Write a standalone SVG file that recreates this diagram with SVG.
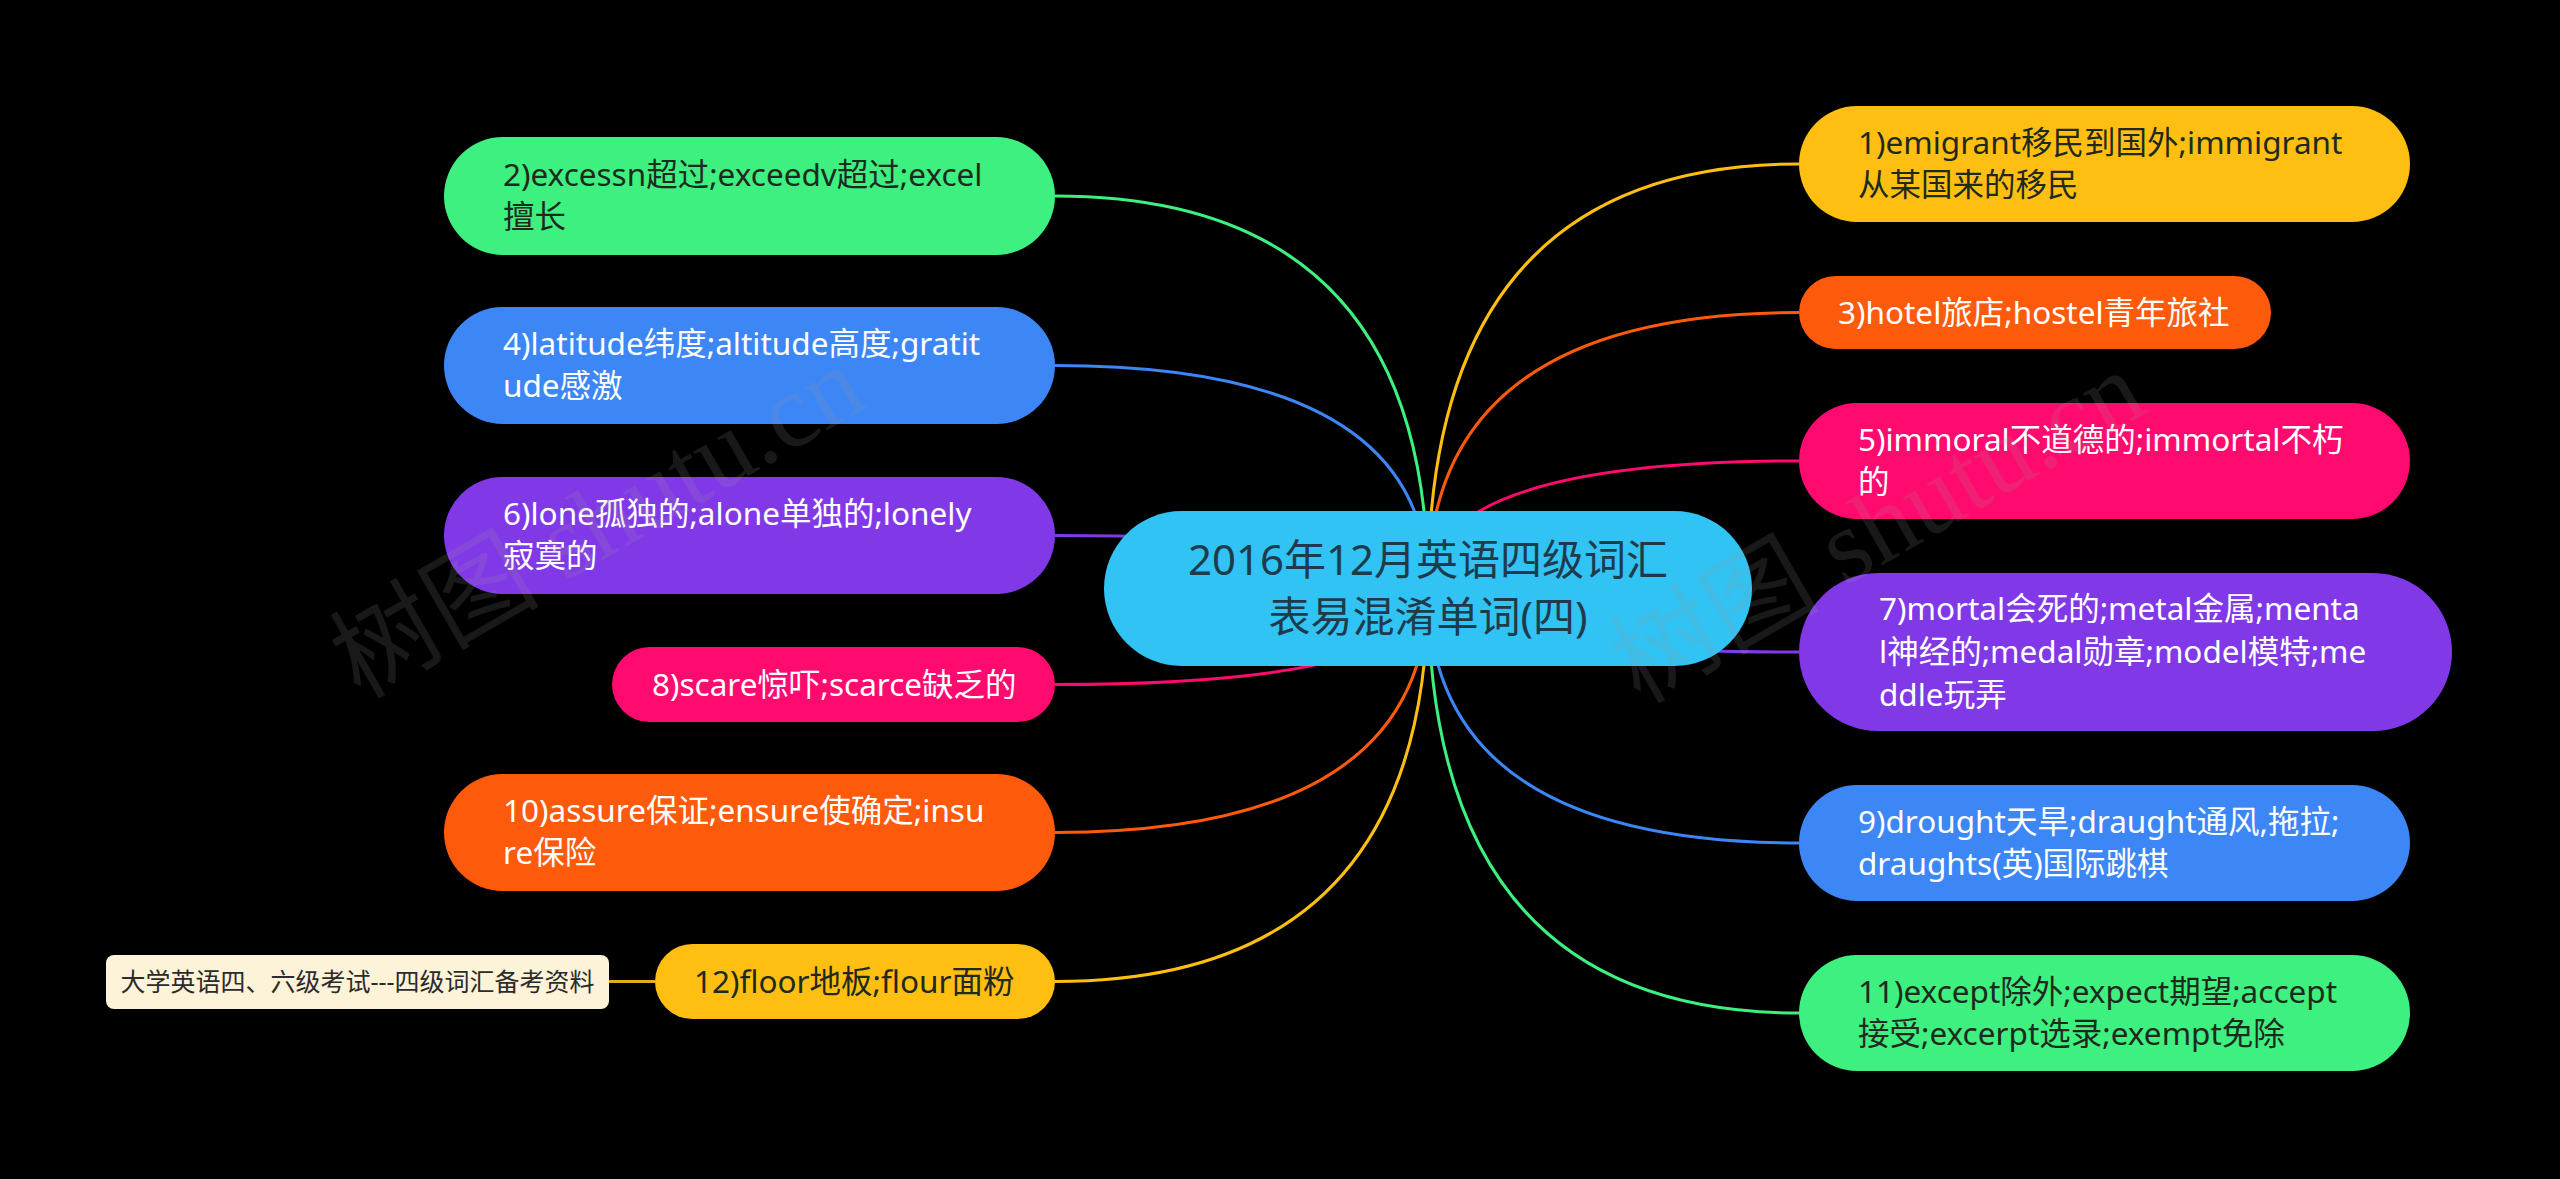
<svg xmlns="http://www.w3.org/2000/svg" width="2560" height="1179" viewBox="0 0 2560 1179">
<style>
.t{font-family:"Noto Sans","Noto Sans CJK SC",sans-serif;font-size:31.5px}
.w{fill:#ffffff}
.d{fill:#1f2a1f}
.c{fill:none;stroke-width:3}
.title{font-family:"Noto Sans","Noto Sans CJK SC",sans-serif;font-size:42px;fill:#1e3b4c;text-anchor:middle}
.wm{font-family:"Liberation Serif","Noto Sans CJK SC",serif;font-size:105px;fill:#9a9a9a;opacity:0.16}
</style>
<rect width="2560" height="1179" fill="#000000"/>
<g id="connectors">
<path class="c" stroke="#3ef07f" d="M1428 588 Q1428 196 1055 196"/>
<path class="c" stroke="#3d86f6" d="M1428 588 Q1428 365.5 1055 365.5"/>
<path class="c" stroke="#8139e8" d="M1428 588 Q1428 535.5 1055 535.5"/>
<path class="c" stroke="#ff0a6e" d="M1428 588 Q1428 684.5 1055 684.5"/>
<path class="c" stroke="#fd5a0c" d="M1428 588 Q1428 832.5 1055 832.5"/>
<path class="c" stroke="#ffbf12" d="M1428 588 Q1428 981.5 1055 981.5"/>
<path class="c" stroke="#ffbf12" d="M1428 588 Q1428 164 1799 164"/>
<path class="c" stroke="#fd5a0c" d="M1428 588 Q1428 312.5 1799 312.5"/>
<path class="c" stroke="#ff0a6e" d="M1428 588 Q1428 461 1799 461"/>
<path class="c" stroke="#8139e8" d="M1428 588 Q1428 652 1799 652"/>
<path class="c" stroke="#3d86f6" d="M1428 588 Q1428 843 1799 843"/>
<path class="c" stroke="#3ef07f" d="M1428 588 Q1428 1013 1799 1013"/>
<path class="c" stroke="#e2ad1a" d="M655 981.5 L609 981.5"/>
</g>
<g id="center">
<rect x="1104" y="511" width="648" height="155" rx="77.5" fill="#30c3f3"/>
<text class="title" x="1428" y="575">2016年12月英语四级词汇</text>
<text class="title" x="1428" y="632">表易混淆单词(四)</text>
</g>
<g id="n2">
<rect x="444" y="137" width="611" height="118" rx="59" fill="#3ef07f"/>
<text class="t d" x="503" y="186">2)excessn超过;exceedv超过;excel</text>
<text class="t d" x="503" y="228">擅长</text>
</g>
<g id="n4">
<rect x="444" y="307" width="611" height="117" rx="58.5" fill="#3d86f6"/>
<text class="t w" x="503" y="355">4)latitude纬度;altitude高度;gratit</text>
<text class="t w" x="503" y="397">ude感激</text>
</g>
<g id="n6">
<rect x="444" y="477" width="611" height="117" rx="58.5" fill="#8139e8"/>
<text class="t w" x="503" y="525">6)lone孤独的;alone单独的;lonely</text>
<text class="t w" x="503" y="567">寂寞的</text>
</g>
<g id="n8">
<rect x="612" y="647" width="443" height="75" rx="37.5" fill="#ff0a6e"/>
<text class="t w" x="652" y="696">8)scare惊吓;scarce缺乏的</text>
</g>
<g id="n10">
<rect x="444" y="774" width="611" height="117" rx="58.5" fill="#fd5a0c"/>
<text class="t w" x="503" y="822">10)assure保证;ensure使确定;insu</text>
<text class="t w" x="503" y="864">re保险</text>
</g>
<g id="n12">
<rect x="655" y="944" width="400" height="75" rx="37.5" fill="#ffbf12"/>
<text class="t d" x="694" y="993">12)floor地板;flour面粉</text>
</g>
<g id="note">
<rect x="106" y="955" width="503" height="54" rx="8" fill="#fdf3d8"/>
<text x="357.5" y="991" text-anchor="middle" style="font-family:'Noto Sans','Noto Sans CJK SC',sans-serif;font-size:25px;fill:#2b2b2b">大学英语四、六级考试---四级词汇备考资料</text>
</g>
<g id="n1">
<rect x="1799" y="106" width="611" height="116" rx="58" fill="#ffbf12"/>
<text class="t d" x="1858" y="154">1)emigrant移民到国外;immigrant</text>
<text class="t d" x="1858" y="196">从某国来的移民</text>
</g>
<g id="n3">
<rect x="1799" y="276" width="472" height="73" rx="36.5" fill="#fd5a0c"/>
<text class="t w" x="1838" y="324">3)hotel旅店;hostel青年旅社</text>
</g>
<g id="n5">
<rect x="1799" y="403" width="611" height="116" rx="58" fill="#ff0a6e"/>
<text class="t w" x="1858" y="451">5)immoral不道德的;immortal不朽</text>
<text class="t w" x="1858" y="493">的</text>
</g>
<g id="n7">
<rect x="1799" y="573" width="653" height="158" rx="79" fill="#8139e8"/>
<text class="t w" x="1879" y="620">7)mortal会死的;metal金属;menta</text>
<text class="t w" x="1879" y="663">l神经的;medal勋章;model模特;me</text>
<text class="t w" x="1879" y="706">ddle玩弄</text>
</g>
<g id="n9">
<rect x="1799" y="785" width="611" height="116" rx="58" fill="#3d86f6"/>
<text class="t w" x="1858" y="833">9)drought天旱;draught通风,拖拉;</text>
<text class="t w" x="1858" y="875">draughts(英)国际跳棋</text>
</g>
<g id="n11">
<rect x="1799" y="955" width="611" height="116" rx="58" fill="#3ef07f"/>
<text class="t d" x="1858" y="1003">11)except除外;expect期望;accept</text>
<text class="t d" x="1858" y="1045">接受;excerpt选录;exempt免除</text>
</g>
<g id="watermarks">
<text class="wm" transform="translate(360 700) rotate(-30)">树图 shutu.cn</text>
<text class="wm" transform="translate(1640 705) rotate(-30)">树图 shutu.cn</text>
</g>
</svg>
